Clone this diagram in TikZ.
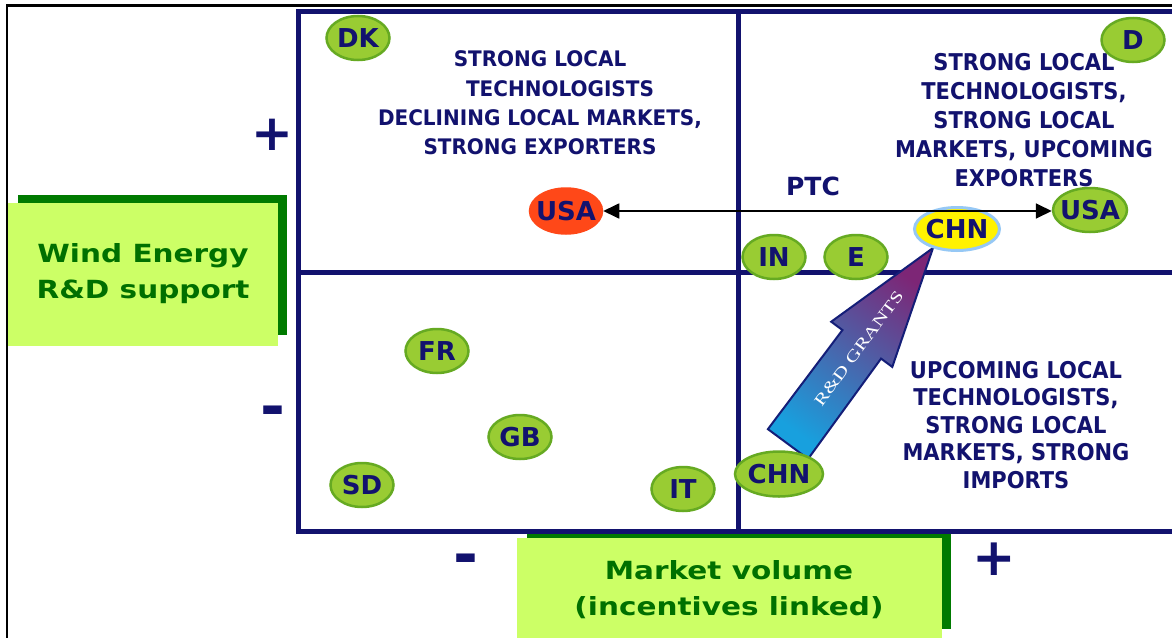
\documentclass[tikz,border=0pt]{standalone}
\usepackage{fontspec}
\usetikzlibrary{arrows.meta,calc,shapes.geometric}
\newfontfamily\dvs{DejaVu Sans}
\newfontfamily\lserif{Liberation Serif}
\definecolor{navy}{RGB}{18,18,110}
\definecolor{boxlight}{RGB}{204,255,102}
\definecolor{boxdark}{RGB}{0,122,0}
\definecolor{boxtext}{RGB}{0,112,0}
\definecolor{ellfill}{RGB}{153,204,51}
\definecolor{ellring}{RGB}{102,170,34}
\definecolor{usared}{RGB}{255,72,24}
\definecolor{chnring}{RGB}{150,200,245}
\definecolor{grantlow}{RGB}{24,160,222}
\definecolor{grantmid}{RGB}{70,95,175}
\definecolor{granthigh}{RGB}{125,38,118}
\definecolor{grantedge}{RGB}{20,30,120}
\newcommand\cty[1]{\makebox[0pt]{#1}}
\tikzset{
  country/.style={ellipse, draw=ellring, line width=2.5pt, fill=ellfill,
    inner sep=0pt, text=navy, font=\dvs\bfseries\fontsize{26}{26}\selectfont,
    minimum width=63pt, minimum height=44pt},
  quadtext/.style={align=center, text=navy, inner sep=0pt},
  axistext/.style={align=center, text=boxtext, inner sep=0pt,
    font=\dvs\bfseries\fontsize{25}{36}\selectfont, xscale=1.18},
  sign/.style={text=navy, inner sep=0pt},
  gridline/.style={draw=navy, line width=5pt},
  granttext/.style={text=white, inner sep=0pt, font=\lserif\fontsize{16}{16}\selectfont},
}
\begin{document}
\begin{tikzpicture}[x=1pt,y=-1pt]
\useasboundingbox (0,0) rectangle (1172,637);
\fill[white] (0,0) rectangle (1172,637);
% outer frame
\draw[black, line width=2.4pt] (7,640) -- (7,5.5) -- (1175,5.5);

% axis label boxes with their shadows
\fill[boxdark] (18,195) rectangle (287,335);
\fill[boxlight] (8,203) rectangle (278,346);
\node[axistext] (rd) at (143,274) {Wind Energy\\R\&D support};
\fill[boxdark] (527,533) rectangle (951,629);
\fill[boxlight] (517,538) rectangle (942,645);
\node[axistext] (mv) at (729,590) {Market volume\\(incentives linked)};

% quadrant grid
\draw[gridline] (1180,11) -- (298,11) -- (298,531) -- (1180,531);
\draw[gridline] (738,11) -- (738,531);
\draw[gridline] (298,272) -- (1180,272);

% axis signs
\node[sign, font=\dvs\bfseries\fontsize{50}{50}\selectfont] (yplus) at (272,135) {+};
\node[sign, font=\dvs\bfseries\fontsize{60}{60}\selectfont] (yminus) at (273,417) {-};
\node[sign, font=\dvs\bfseries\fontsize{60}{60}\selectfont] (xminus) at (466,565) {-};
\node[sign, font=\dvs\bfseries\fontsize{52}{52}\selectfont] (xplus) at (994,559) {+};

% quadrant descriptions
\node[quadtext, font=\dvs\bfseries\fontsize{20}{27.4}\selectfont, yscale=1.07] (tl) at (540,103)
  {STRONG LOCAL\\\hspace*{40pt}TECHNOLOGISTS\\DECLINING LOCAL MARKETS,\\STRONG EXPORTERS};
\node[quadtext, font=\dvs\bfseries\fontsize{21}{26.2}\selectfont, yscale=1.1] (tr) at (1024,120)
  {STRONG LOCAL\\TECHNOLOGISTS,\\STRONG LOCAL\\MARKETS, UPCOMING\\EXPORTERS};
\node[quadtext, font=\dvs\bfseries\fontsize{21}{25}\selectfont, yscale=1.1] (br) at (1016,425)
  {UPCOMING LOCAL\\TECHNOLOGISTS,\\STRONG LOCAL\\MARKETS, STRONG\\IMPORTS};

% R&D grants block arrow
\coordinate (gb) at (788,444);
\coordinate (gt) at (933,248);
\coordinate (gh) at ($(gb)!124pt!(gt)$);
\coordinate (g1) at ($(gb)!25pt!90:(gt)$);
\coordinate (g2) at ($(gh)!24pt!90:(gt)$);
\coordinate (g3) at ($(gh)!38pt!90:(gt)$);
\coordinate (g4) at ($(gh)!38pt!-90:(gt)$);
\coordinate (g5) at ($(gh)!24pt!-90:(gt)$);
\coordinate (g6) at ($(gb)!25pt!-90:(gt)$);
\path[draw=grantedge, line width=2pt, line join=miter,
      top color=granthigh, middle color=grantmid, bottom color=grantlow, shading angle=-36.5]
  (g1) -- (g2) -- (g3) -- (gt) -- (g4) -- (g5) -- (g6) -- cycle;
\node[granttext, rotate=53.5, xscale=1.35] (grants) at ($(gb)!119pt!(gt)$) {R\&D GRANTS};

% countries
\node[country] (DK) at (358,38) {\cty{DK}};
\node[country] (D) at (1133,40) {\cty{D}};
\node[country, fill=usared, draw=usared, minimum width=72pt, minimum height=45pt] (USAl) at (566,211) {\cty{USA}};
\node[country, minimum width=74pt] (USAr) at (1090,210) {\cty{USA}};
\node[country, fill=yellow, draw=chnring, line width=3pt, minimum width=85pt, minimum height=43pt] (CHNt) at (957,229) {\cty{CHN}};
\node[country] (IN) at (774,257) {\cty{IN}};
\node[country] (E) at (856,257) {\cty{E}};
\node[country] (FR) at (437,351) {\cty{FR}};
\node[country] (GB) at (520,437) {\cty{GB}};
\node[country] (SD) at (362,485) {\cty{SD}};
\node[country] (IT) at (683,489) {\cty{IT}};
\node[country, minimum width=88pt, minimum height=45pt] (CHNb) at (779,474) {\cty{CHN}};

% production tax credit shift
\draw[line width=1.8pt, {Triangle[length=16pt,width=15pt]}-{Triangle[length=16pt,width=15pt]}]
  (USAl.east) -- (USAl.east -| USAr.west);
\node[quadtext, font=\dvs\bfseries\fontsize{25}{25}\selectfont] (ptc) at (813,186) {PTC};
\end{tikzpicture}
\end{document}
